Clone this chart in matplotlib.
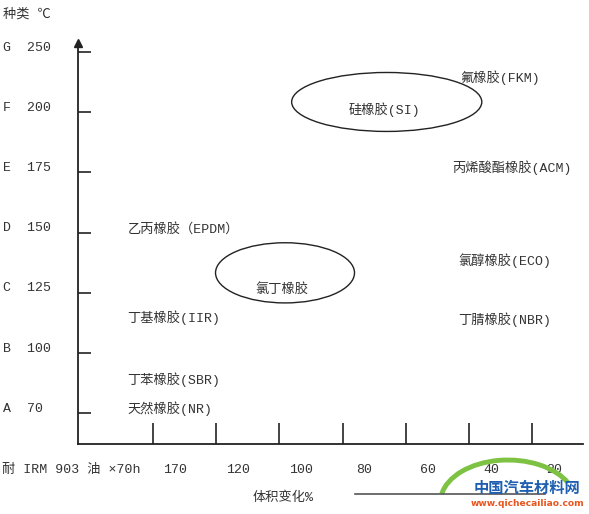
import matplotlib
matplotlib.use("Agg")
import matplotlib.pyplot as plt
from matplotlib.patches import Ellipse, Arc
from matplotlib.lines import Line2D

# 温度等级 (A..G) 与耐油体积变化
grades = ["A", "B", "C", "D", "E", "F", "G"]
temps = ["70", "100", "125", "150", "175", "200", "250"]
swell = ["170", "120", "100", "80", "60", "40", "20"]

# 橡胶名称及其在图中的位置 (x: 体积变化刻度, y: 温度等级)
rubbers = ["天然橡胶(NR)", "丁苯橡胶(SBR)", "丁基橡胶(IIR)", "乙丙橡胶（EPDM）",
           "氯丁橡胶", "硅橡胶(SI)", "氟橡胶(FKM)", "丙烯酸酯橡胶(ACM)",
           "氯醇橡胶(ECO)", "丁腈橡胶(NBR)"]
rubber_x = [0.60, 0.60, 0.60, 0.60, 3.04, 4.66, 5.86, 5.73, 5.83, 5.83]
rubber_y = [0.07, 0.55, 1.58, 3.06, 2.06, 5.05, 5.57, 4.07, 2.54, 1.56]
rubber_ha = ["left", "left", "left", "left", "center", "center",
             "left", "left", "left", "left"]

# 椭圆区域: 氯丁橡胶, 硅橡胶
ell_x = [3.09, 4.70]
ell_y = [2.33, 5.17]
ell_w = [2.20, 3.01]
ell_h = [1.00, 0.98]

FONT = ["Liberation Mono", "Noto Sans CJK SC"]
TXT = "#333333"
LINE = "#222222"

W, H = 589, 514
fig = plt.figure(figsize=(W / 100, H / 100), dpi=100)


def fx(x, y):
    return (x / W, 1 - y / H)


ax = fig.add_axes([78 / W, 70 / H, (583 - 78) / W, (444 - 43) / H])
ax.set_xlim(-0.187, 7.807)
ax.set_ylim(-0.515, 6.15)
for s in ["top", "right"]:
    ax.spines[s].set_visible(False)
for s in ["left", "bottom"]:
    ax.spines[s].set_color(LINE)
    ax.spines[s].set_linewidth(1.3)

xt = list(range(1, len(swell) + 1))
ax.set_xticks(xt)
ax.set_xticklabels([])
ax.set_yticks(range(len(grades)))
ax.set_yticklabels([])
ax.tick_params(axis="x", direction="in", length=15, width=1.2, color=LINE)
ax.tick_params(axis="y", direction="in", length=9, width=1.2, color=LINE)

# 箭头
ax.plot([0], [1], marker="^", color=LINE, markersize=6, transform=ax.transAxes,
        clip_on=False)

# y 轴标签
for i, (g, t) in enumerate(zip(grades, temps)):
    ax.text(-0.1485, i + 0.07, f"{g}  {t}", transform=ax.get_yaxis_transform(),
            ha="left", va="center", fontsize=9.5, family=FONT, color=TXT)

# x 轴标签
for i, s in zip(xt, swell):
    ax.text(i + 0.35, -0.065, s, transform=ax.get_xaxis_transform(),
            ha="center", va="center", fontsize=9.5, family=FONT, color=TXT)

# 橡胶名称
for name, x, y, ha in zip(rubbers, rubber_x, rubber_y, rubber_ha):
    ax.text(x, y, name, ha=ha, va="center", fontsize=9.5, family=FONT, color=TXT)

for x, y, w, h in zip(ell_x, ell_y, ell_w, ell_h):
    ax.add_patch(Ellipse((x, y), w, h, fill=False, edgecolor=LINE, lw=1.0))

fig.text(*fx(3, 14), "种类 ℃", ha="left", va="center", fontsize=9.5,
         family=FONT, color=TXT)
fig.text(*fx(2, 470), "耐 IRM 903 油 ×70h", ha="left", va="center",
         fontsize=9.5, family=FONT, color=TXT)
fig.text(*fx(253, 498), "体积变化%", ha="left", va="center", fontsize=9.5,
         family=FONT, color=TXT)
fig.add_artist(Line2D([355 / W, 545 / W], [1 - 494 / H, 1 - 494 / H],
                      color="#555555", lw=1.2))

# 水印
fig.add_artist(Arc((508 / W, 1 - 502 / H), 135 / W, 84 / H, theta1=20,
                   theta2=172, color="#7dc242", lw=3.5))
fig.text(*fx(527, 488), "中国汽车材料网", ha="center", va="center",
         fontsize=11, weight="bold", style="italic", color="#1f5fb0",
         family=["Noto Sans CJK SC"])
fig.text(*fx(527, 503), "www.qichecailiao.com", ha="center", va="center",
         fontsize=6.6, weight="bold", color="#e8551f", family=["DejaVu Sans"])

fig.savefig("out.png", dpi=100)
